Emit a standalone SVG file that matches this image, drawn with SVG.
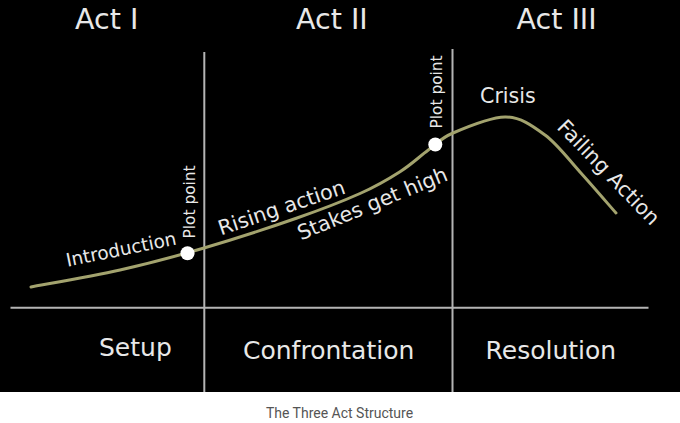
<svg xmlns="http://www.w3.org/2000/svg" width="680" height="423" viewBox="0 0 680 423">
<style>
.t{font-family:"DejaVu Sans",Verdana,sans-serif;fill:#e8e8e8}
.act{font-size:28.5px}
.sec{font-size:25px}
.lbl{font-size:20.6px}
.pp{font-size:15.4px}
.axis{stroke:#b4b4b4;stroke-width:2;fill:none}
.curve{stroke:#a3a36e;stroke-width:3;fill:none;stroke-linecap:round}
.dot{fill:#ffffff}
</style>
<rect x="0" y="0" width="680" height="392" fill="#000"/>
<rect x="0" y="392" width="680" height="31" fill="#fff"/>
<g id="axes">
<line class="axis" x1="204.3" y1="52" x2="204.3" y2="392"/>
<line class="axis" x1="452.5" y1="49" x2="452.5" y2="392"/>
<line class="axis" x1="10.5" y1="307.7" x2="648.5" y2="307.7"/>
</g>
<g id="acts">
<text class="t act" x="75" y="29.3">Act I</text>
<text class="t act" x="296" y="29.3">Act II</text>
<text class="t act" x="516.5" y="29.3">Act III</text>
</g>
<g id="connectors">
<path class="curve" d="M31,287 C45.8,284.2 91.2,276.5 120,270 C148.8,263.5 174.5,256.7 204,248 C233.5,239.3 271,227.1 297,218 C323,208.9 342.8,201.2 360,193.5 C377.2,185.8 388.6,179 400,171.7 C411.4,164.5 419.5,156.5 428.3,150 C437.1,143.5 440.2,138.5 453,133 C465.8,127.5 489.7,117.3 505,117 C520.3,116.7 532.5,125.8 545,135 C557.5,144.2 568.2,159 580,172 C591.8,185 610,206.2 616,213"/>
</g>
<g id="plot-point-1">
<circle class="dot" cx="187.5" cy="253.3" r="7"/>
<text class="t pp" transform="translate(194.8,238.5) rotate(-90)">Plot point</text>
</g>
<g id="plot-point-2">
<circle class="dot" cx="435.3" cy="144.5" r="7"/>
<text class="t pp" transform="translate(442,128.5) rotate(-90)">Plot point</text>
</g>
<g id="labels">
<text class="t" style="font-size:18.5px" transform="translate(67.5,266.7) rotate(-11.5)">Introduction</text>
<text class="t lbl" transform="translate(221,235.5) rotate(-18.7)">Rising action</text>
<text class="t lbl" transform="translate(301,240.5) rotate(-22.3)">Stakes get high</text>
<text class="t lbl" x="480" y="103.3">Crisis</text>
<text class="t lbl" transform="translate(556,128) rotate(46)">Failing Action</text>
</g>
<g id="sections">
<text class="t sec" x="99" y="356">Setup</text>
<text class="t sec" x="243" y="359">Confrontation</text>
<text class="t sec" x="485.5" y="359">Resolution</text>
</g>
<text x="339.5" y="418" text-anchor="middle" style="font-family:Roboto,'Liberation Sans',sans-serif;font-size:14px;fill:#555">The Three Act Structure</text>
</svg>
